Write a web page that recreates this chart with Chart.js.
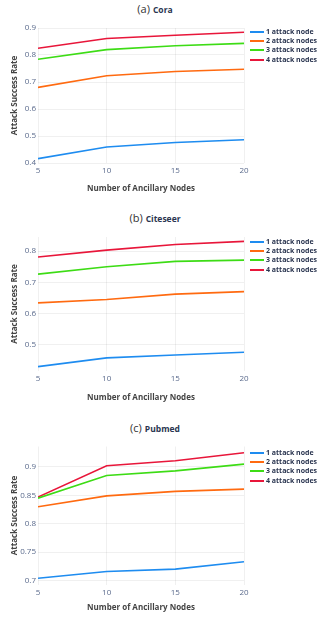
<!DOCTYPE html>
<html>
<head>
<meta charset="utf-8">
<script src="https://cdn.jsdelivr.net/npm/chart.js@4.4.1/dist/chart.umd.min.js"></script>
<style>
  body { margin: 0; background: #fff; font-family: 'Open Sans', sans-serif; }
  #wrap { position: relative; width: 321px; height: 621px; overflow: hidden; }
  canvas { position: absolute; left: 0; }
  .title { position: absolute; left: 0; width: 310px; text-align: center; color: #333; white-space: nowrap; }
  .title .lab { font-size: 11px; }
  .title .name { font-size: 8.5px; font-weight: bold; color: #2a3550; margin-left: 3px; }
  .legend { position: absolute; left: 250px; font-size: 7px; font-weight: bold; color: #2a3550; }
  .legend div { position: absolute; left: 0; height: 10px; line-height: 10px; white-space: nowrap; padding-left: 16px; }
  .legend span { position: absolute; left: 0; top: 4px; width: 14px; height: 2px; }
</style>
</head>
<body>
<div id="wrap">
  <div class="title" style="top:-4px"><span class="lab">(a)</span><span class="name">Cora</span></div>
  <div class="title" style="top:205px"><span class="lab">(b)</span><span class="name">Citeseer</span></div>
  <div class="title" style="top:415px"><span class="lab">(c)</span><span class="name">Pubmed</span></div>
  <canvas id="coraChart" width="321" height="200" style="top:0px"></canvas>
  <canvas id="citeseerChart" width="321" height="207" style="top:200px"></canvas>
  <canvas id="pubmedChart" width="321" height="214" style="top:407px"></canvas>
  <div class="legend" id="legA" style="top:27px"></div>
  <div class="legend" id="legB" style="top:237px"></div>
  <div class="legend" id="legC" style="top:448px"></div>
</div>
<script>
const ancillaryNodes = [5, 10, 15, 20];
const seriesNames = ['1 attack node', '2 attack nodes', '3 attack nodes', '4 attack nodes'];
const seriesColors = ['#1e8cf0', '#ff6a10', '#3ddc15', '#e8163a'];

// Cora
const cora1 = [0.416, 0.459, 0.476, 0.486];
const cora2 = [0.680, 0.723, 0.739, 0.747];
const cora3 = [0.784, 0.820, 0.834, 0.843];
const cora4 = [0.825, 0.861, 0.873, 0.884];
const coraTicks = [0.4, 0.5, 0.6, 0.7, 0.8, 0.9];

// Citeseer
const citeseer1 = [0.430, 0.458, 0.467, 0.476];
const citeseer2 = [0.634, 0.645, 0.662, 0.670];
const citeseer3 = [0.726, 0.750, 0.767, 0.771];
const citeseer4 = [0.781, 0.803, 0.821, 0.831];
const citeseerTicks = [0.5, 0.6, 0.7, 0.8];

// Pubmed
const pubmed1 = [0.704, 0.716, 0.720, 0.733];
const pubmed2 = [0.830, 0.849, 0.857, 0.861];
const pubmed3 = [0.845, 0.885, 0.893, 0.905];
const pubmed4 = [0.847, 0.902, 0.911, 0.925];
const pubmedTicks = [0.7, 0.75, 0.8, 0.85, 0.9];

const gridColor = 'rgba(0,0,0,0.06)';
const tickColor = '#5a6a8c';
const titleColor = '#444';

function makeChart(id, series, yTicks, yMin, yMax, top, bottom, height, xTitlePad) {
  const datasets = series.map((vals, i) => ({
    label: seriesNames[i],
    data: vals.map((v, j) => ({ x: ancillaryNodes[j], y: v })),
    borderColor: seriesColors[i],
    backgroundColor: seriesColors[i],
    borderWidth: 1.6,
    pointRadius: 0,
    tension: 0,
  }));
  return new Chart(document.getElementById(id).getContext('2d'), {
    type: 'line',
    data: { datasets: datasets },
    options: {
      responsive: false,
      animation: false,
      layout: { padding: { top: top, right: 77, left: 0, bottom: 0 } },
      plugins: { legend: { display: false }, tooltip: { enabled: false } },
      scales: {
        x: {
          type: 'linear',
          min: 5,
          max: 20,
          afterBuildTicks: (scale) => { scale.ticks = ancillaryNodes.map(v => ({ value: v })); },
          afterFit: (scale) => { scale.height = height - bottom; },
          grid: { color: gridColor, drawTicks: false },
          border: { display: false },
          ticks: { color: tickColor, font: { family: 'Open Sans', size: 8 }, padding: 3, maxRotation: 0 },
          title: {
            display: true,
            text: 'Number of Ancillary Nodes',
            color: titleColor,
            font: { family: 'Open Sans', size: 8, weight: 'bold' },
            padding: { top: 4, bottom: xTitlePad },
          },
        },
        y: {
          min: yMin,
          max: yMax,
          afterBuildTicks: (scale) => { scale.ticks = yTicks.map(v => ({ value: v })); },
          afterFit: (scale) => { scale.width = 38; },
          grid: { color: gridColor, drawTicks: false },
          border: { display: false },
          ticks: {
            color: tickColor,
            font: { family: 'Open Sans', size: 8 },
            padding: 2,
            callback: (v) => String(Math.round(v * 100) / 100),
          },
          title: {
            display: true,
            text: 'Attack Success Rate',
            color: titleColor,
            font: { family: 'Open Sans', size: 8, weight: 'bold' },
            padding: { top: 9.5, bottom: 0 },
          },
        },
      },
    },
  });
}

function makeLegend(id) {
  const el = document.getElementById(id);
  seriesNames.forEach((name, i) => {
    const row = document.createElement('div');
    row.style.top = Math.round(i * 9.2) + 'px';
    row.innerHTML = '<span style="background:' + seriesColors[i] + '"></span>' + name;
    el.appendChild(row);
  });
}

makeChart('coraChart', [cora1, cora2, cora3, cora4], coraTicks, 0.4, 0.9, 28, 163, 200, 6);
makeChart('citeseerChart', [citeseer1, citeseer2, citeseer3, citeseer4], citeseerTicks, 0.416, 0.845, 37, 171, 207, 4.6);
makeChart('pubmedChart', [pubmed1, pubmed2, pubmed3, pubmed4], pubmedTicks, 0.693, 0.936, 39.5, 177.5, 214, 8.6);
makeLegend('legA');
makeLegend('legB');
makeLegend('legC');
</script>
</body>
</html>
